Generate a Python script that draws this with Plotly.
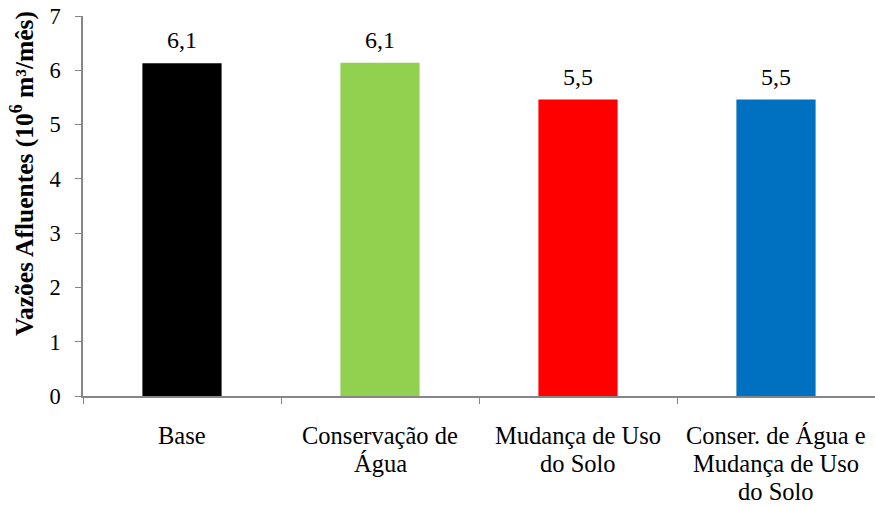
import plotly.graph_objects as go

# Scenario names and monthly inflow volumes (10^6 m³/month)
categories = [
    "Base",
    "Conservação de<br>Água",
    "Mudança de Uso<br>do Solo",
    "Conser. de Água e<br>Mudança de Uso<br>do Solo",
]
values = [6.13, 6.14, 5.46, 5.46]
colors = ["#000000", "#92D050", "#FF0000", "#0070C0"]
y_ticks = [0, 1, 2, 3, 4, 5, 6, 7]
y_title = "<b>Vazões Afluentes (10<sup>6</sup> m³/mês)</b>"

serif = "Liberation Serif"
axis_grey = "#868686"

fig = go.Figure(
    go.Bar(
        x=categories,
        y=values,
        marker=dict(color=colors, line=dict(width=0)),
        width=0.4,
    )
)

# value labels above each bar, one decimal with a decimal comma
for cat, val in zip(categories, values):
    fig.add_annotation(
        x=cat,
        y=val,
        text=f"{val:.1f}".replace(".", ","),
        showarrow=False,
        yanchor="bottom",
        yshift=8,
        font=dict(family=serif, size=24, color="#000000"),
    )

# category labels, one annotation per line for tighter line spacing
for cat in categories:
    for i, line in enumerate(cat.split("<br>")):
        fig.add_annotation(
            x=cat,
            y=0,
            yref="paper",
            text=line,
            showarrow=False,
            yanchor="middle",
            yshift=-39 - 28 * i,
            font=dict(family=serif, size=24.5, color="#000000"),
        )

# vertical axis title, set slightly above the axis centre
fig.add_annotation(
    x=-0.077,
    y=0.584,
    xref="paper",
    yref="paper",
    text=y_title,
    textangle=-90,
    showarrow=False,
    xanchor="center",
    yanchor="middle",
    font=dict(family=serif, size=25.5, color="#000000"),
)

fig.update_layout(
    width=875,
    height=506,
    margin=dict(l=83, r=0, t=16, b=110),
    paper_bgcolor="white",
    plot_bgcolor="white",
    showlegend=False,
    font=dict(family=serif, color="#000000"),
)

fig.update_xaxes(
    showline=True,
    linecolor=axis_grey,
    linewidth=1.5,
    ticks="outside",
    tickson="boundaries",
    ticklen=6,
    tickcolor=axis_grey,
    showticklabels=False,
    showgrid=False,
    automargin=False,
)

fig.update_yaxes(
    range=[0, 7],
    tickvals=y_ticks,
    showline=True,
    linecolor=axis_grey,
    linewidth=1.5,
    ticks="outside",
    ticklen=6,
    tickcolor=axis_grey,
    tickfont=dict(family=serif, size=22.5, color="#000000"),
    ticklabelstandoff=10,
    showgrid=False,
    zeroline=False,
    automargin=False,
)

fig.write_html("out.html")
